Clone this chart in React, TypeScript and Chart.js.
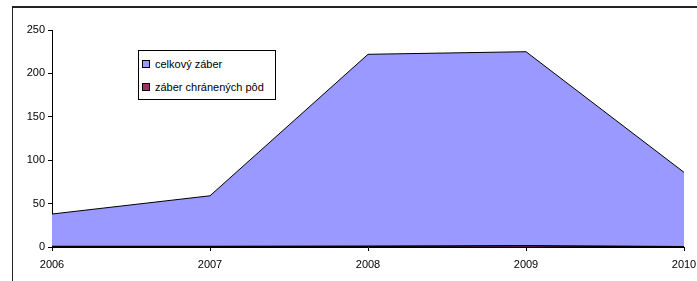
import React, { useEffect, useRef } from "react";
import { Chart, registerables } from "chart.js";

Chart.register(...registerables);

const years = ["2006", "2007", "2008", "2009", "2010"];
const celkovyZaber = [38, 59, 222, 225, 86];
const zaberChranenychPod = [0.5, 0.5, 0.8, 1.3, 0.4];
const yTicks = [0, 50, 100, 150, 200, 250];

const FONT = "'Liberation Sans', Arial, sans-serif";

export default function App() {
  const ref = useRef<HTMLCanvasElement>(null);
  useEffect(() => {
    document.body.style.margin = "0";
    const ctx = ref.current!;
    const chart = new Chart(ctx, {
      type: "line",
      data: {
        labels: years,
        datasets: [
          {
            label: "celkový záber",
            data: celkovyZaber,
            backgroundColor: "#9999FF",
            borderColor: "#000000",
            borderWidth: 1,
            fill: "origin",
            pointRadius: 0,
            tension: 0,
            order: 2,
          },
          {
            label: "záber chránených pôd",
            data: zaberChranenychPod,
            backgroundColor: "#993366",
            borderColor: "#000000",
            borderWidth: 1.5,
            fill: "origin",
            pointRadius: 0,
            tension: 0,
            order: 1,
          },
        ],
      },
      options: {
        animation: false,
        responsive: false,
        maintainAspectRatio: false,
        layout: { padding: { left: 0, right: 13, top: 30, bottom: 0 } },
        plugins: {
          legend: { display: false },
          tooltip: { enabled: false },
        },
        scales: {
          x: {
            type: "category",
            offset: false,
            grid: {
              drawOnChartArea: false,
              drawTicks: true,
              tickLength: 4,
              color: "#000",
            },
            border: { display: true, color: "#000", width: 1 },
            ticks: {
              color: "#000",
              font: { family: FONT, size: 11 },
              padding: 7,
              maxRotation: 0,
              autoSkip: false,
            },
            afterFit: (s: any) => {
              s.height = 34;
              s.paddingRight = 0;
              s.paddingLeft = 0;
            },
          },
          y: {
            min: 0,
            max: 250,
            afterBuildTicks: (s: any) => {
              s.ticks = yTicks.map((v) => ({ value: v }));
            },
            grid: {
              drawOnChartArea: false,
              drawTicks: true,
              tickLength: 4,
              color: "#000",
            },
            border: { display: true, color: "#000", width: 1 },
            ticks: {
              color: "#000",
              font: { family: FONT, size: 11 },
              padding: 3,
            },
            afterFit: (s: any) => {
              s.width = 52;
            },
          },
        },
      },
    });
    return () => chart.destroy();
  }, []);

  const item = (color: string, text: string) => (
    <div style={{ display: "flex", alignItems: "center", height: 23 }}>
      <span
        style={{
          display: "inline-block",
          width: 6,
          height: 6,
          background: color,
          border: "1px solid #000",
          marginRight: 5,
        }}
      />
      <span>{text}</span>
    </div>
  );

  return (
    <div style={{ position: "fixed", left: 0, top: 0, width: 697, height: 281, background: "#fff", overflow: "hidden" }}>
      <canvas ref={ref} width={697} height={281} style={{ position: "absolute", left: 0, top: 0, width: 697, height: 281 }} />
      <div
        style={{
          position: "absolute",
          left: 12,
          top: 6,
          width: 700,
          height: 300,
          borderTop: "2px solid #222",
          borderLeft: "1px solid #222",
          pointerEvents: "none",
        }}
      />
      <div
        style={{
          position: "absolute",
          left: 138,
          top: 50,
          width: 138,
          padding: "1px 0 1px 3px",
          border: "1px solid #000",
          background: "#fff",
          fontFamily: FONT,
          fontSize: 11,
          color: "#000",
          boxSizing: "border-box",
        }}
      >
        {item("#9999FF", "celkový záber")}
        {item("#993366", "záber chránených pôd")}
      </div>
    </div>
  );
}
